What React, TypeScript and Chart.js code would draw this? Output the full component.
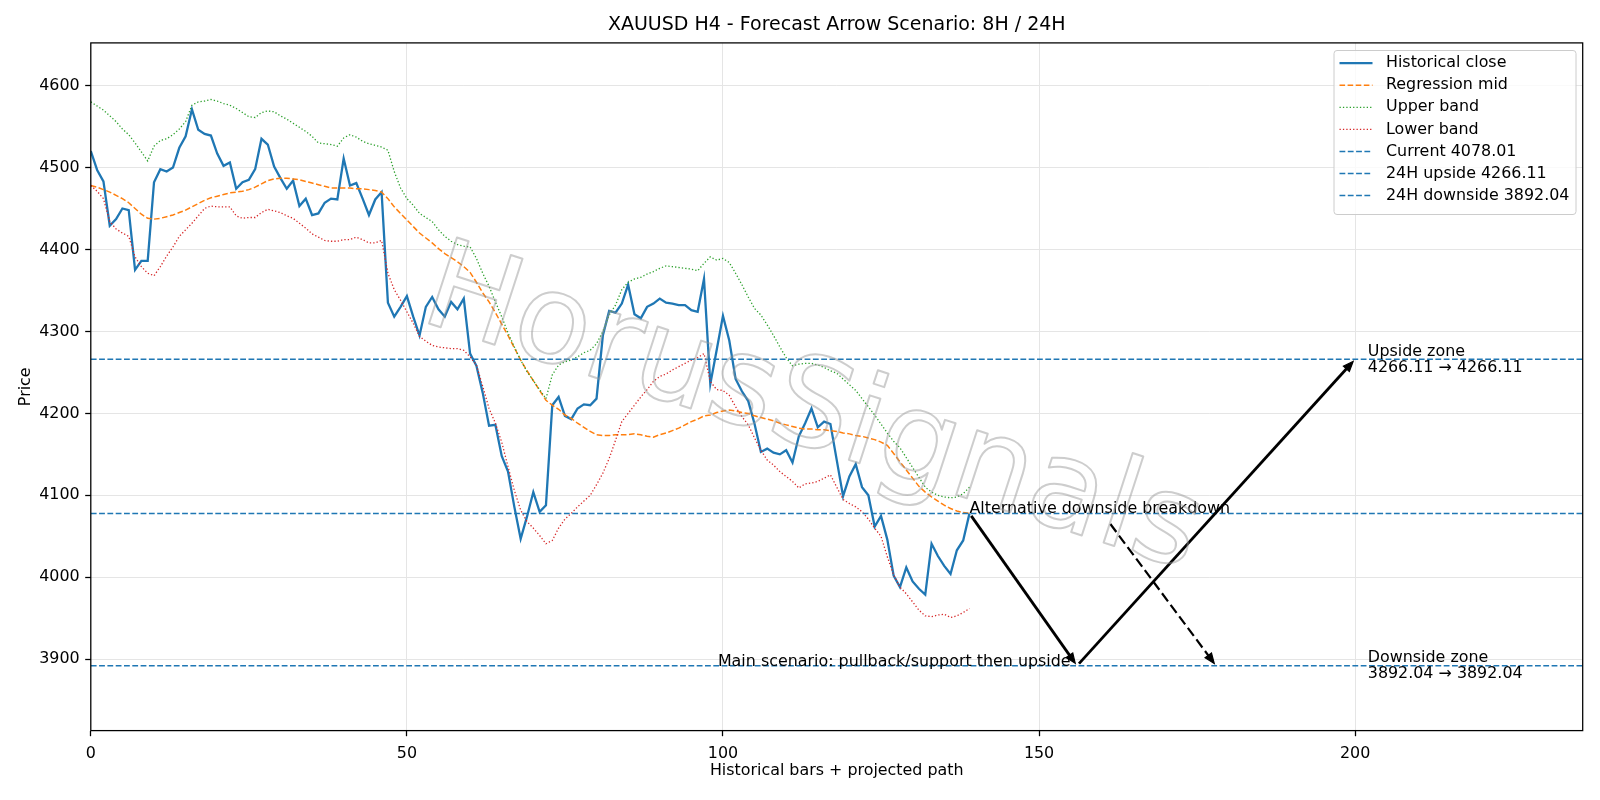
import React, { useEffect, useRef } from "react";
import { Chart, registerables } from "chart.js";

Chart.register(...registerables);

const FONT = "'DejaVu Sans', 'Liberation Sans', sans-serif";
const BLUE = "#1f77b4";
const ORANGE = "#ff7f0e";
const GREEN = "#2ca02c";
const RED = "#d62728";

const chartTitle = "XAUUSD H4 - Forecast Arrow Scenario: 8H / 24H";
const xAxisTitle = "Historical bars + projected path";
const yAxisTitle = "Price";

// H4 closes, one value per bar index
const closeValues = [
  4520, 4497, 4483, 4429, 4437, 4450, 4448, 4375, 4386, 4386,
  4482, 4498, 4495, 4500, 4524, 4538, 4571, 4546, 4541, 4539,
  4517, 4502, 4506, 4474, 4482, 4485, 4498, 4535, 4528, 4501,
  4487, 4474, 4484, 4453, 4462, 4442, 4444, 4457, 4462, 4461,
  4511, 4478, 4481, 4462, 4442, 4461, 4470, 4335, 4318, 4330,
  4343, 4318, 4295, 4330, 4342, 4327, 4318, 4336, 4327, 4340,
  4273, 4258, 4225, 4185, 4186, 4148, 4129, 4086, 4047, 4074,
  4104, 4080, 4088, 4210, 4220, 4197, 4193, 4206, 4211, 4210,
  4218, 4295, 4325, 4323, 4334, 4357, 4321, 4316, 4330, 4334,
  4340, 4335, 4334, 4332, 4332, 4326, 4324, 4364, 4236, 4277,
  4319, 4289, 4242, 4227, 4215, 4187, 4153, 4157, 4152, 4150,
  4155, 4140, 4172, 4188, 4206, 4183, 4190, 4187, 4143, 4099,
  4123, 4138, 4110, 4100, 4062, 4075, 4046, 4002, 3988, 4012,
  3995, 3986, 3979, 4041, 4026, 4014, 4004, 4033, 4045, 4078.01,
];

const midValues = [
  4478, 4476, 4473, 4470, 4466, 4462, 4457, 4450, 4443, 4438,
  4437, 4438, 4440, 4442, 4445, 4448, 4452, 4456, 4460, 4463,
  4465, 4467, 4469, 4470, 4471, 4473, 4476, 4480, 4484, 4486,
  4487, 4487, 4486, 4485, 4483, 4481, 4479, 4477, 4475, 4475,
  4475, 4475, 4474, 4474, 4473, 4472, 4470, 4462, 4452, 4444,
  4436, 4428, 4420, 4414, 4408, 4401, 4395, 4390, 4385, 4379,
  4372, 4360, 4347, 4336, 4323, 4309, 4295, 4280, 4265, 4252,
  4240, 4228, 4216, 4210, 4205, 4198, 4194, 4188, 4183, 4178,
  4174, 4173, 4173, 4174, 4174, 4174, 4175, 4174, 4172, 4171,
  4174, 4176, 4179, 4182, 4186, 4190, 4193, 4197, 4198, 4201,
  4203, 4204, 4203, 4201, 4200, 4197, 4195, 4193, 4191, 4188,
  4186, 4184, 4182, 4181, 4181, 4180, 4180, 4179, 4178, 4176,
  4175, 4173, 4172, 4170, 4168, 4165, 4161, 4151, 4141, 4131,
  4121, 4111, 4104, 4098, 4093, 4088, 4084, 4081, 4079, 4078,
];

const upperValues = [
  4580, 4575, 4570, 4563, 4556, 4547, 4540, 4530, 4519, 4508,
  4526, 4533, 4535, 4540, 4547, 4556, 4576, 4580, 4581, 4583,
  4581, 4578, 4576, 4572, 4567, 4562, 4561, 4567, 4569, 4568,
  4563, 4559, 4554, 4549, 4544, 4538, 4530, 4529, 4528, 4526,
  4536, 4540, 4537, 4532, 4529, 4527, 4525, 4521, 4495, 4475,
  4462, 4454, 4444, 4439, 4434, 4424, 4416, 4410, 4406, 4404,
  4403, 4389, 4371, 4355, 4336, 4318, 4298, 4281, 4265, 4251,
  4240, 4229, 4218, 4247, 4259, 4263, 4265, 4269, 4274, 4277,
  4285, 4300, 4320, 4332, 4351, 4360, 4364, 4366, 4370, 4373,
  4377, 4380, 4379, 4378, 4377, 4376, 4374, 4383, 4391, 4387,
  4389, 4384, 4371, 4357, 4342, 4328, 4320, 4308, 4295, 4281,
  4268, 4258, 4260, 4261, 4261, 4259, 4256, 4252, 4249, 4242,
  4235, 4228, 4218, 4208, 4198, 4187, 4176, 4166, 4158, 4146,
  4134, 4122, 4110, 4104, 4100, 4098, 4097, 4098, 4102, 4110,
];

const lowerValues = [
  4478, 4471, 4462, 4434, 4425, 4420, 4416, 4391, 4379, 4371,
  4368, 4379, 4392, 4403, 4416, 4424, 4432, 4441, 4450, 4453,
  4452, 4452, 4452, 4441, 4438, 4439, 4439, 4445, 4449, 4447,
  4445, 4441, 4438, 4432, 4426, 4419, 4415, 4411, 4410, 4410,
  4412, 4412, 4415, 4412, 4408, 4408, 4411, 4371, 4351, 4338,
  4324, 4310, 4294, 4288, 4283, 4281, 4280, 4279, 4279, 4277,
  4269, 4259, 4233, 4206, 4188, 4165, 4135, 4106, 4082, 4068,
  4060, 4051, 4041, 4045, 4060, 4071, 4078, 4086, 4093, 4100,
  4113, 4127, 4145, 4167, 4190, 4200, 4210, 4220, 4229, 4239,
  4245, 4248, 4253, 4257, 4261, 4265, 4268, 4273, 4239, 4229,
  4228, 4222, 4208, 4196, 4186, 4170, 4155, 4143, 4137, 4129,
  4123, 4117, 4109, 4114, 4115, 4117, 4121, 4125, 4110, 4095,
  4090, 4086, 4080, 4071, 4060, 4050, 4025, 4003, 3988, 3980,
  3970, 3960, 3953, 3952, 3954, 3955, 3951, 3953, 3957, 3962,
];

const currentPrice = 4078.01;
const upsidePrice = 4266.11;
const downsidePrice = 3892.04;

const xTickValues = [0, 50, 100, 150, 200];
const yTickValues = [3900, 4000, 4100, 4200, 4300, 4400, 4500, 4600];
const xLimits = [0, 236];
const yLimits = [3813, 4652];

// projected path legs: [fromBar, fromPrice, toBar, toPrice]
const mainDownLeg = [139, currentPrice, 156, downsidePrice];
const mainUpLeg = [156, downsidePrice, 200, upsidePrice];
const altDownLeg = [161, 4068, 178, downsidePrice];

const altLabel = "Alternative downside breakdown";
const altLabelAt = [139, currentPrice];
const mainLabel = "Main scenario: pullback/support then upside";
const mainLabelAt = [155, downsidePrice];
const zoneLabelBar = 202;
const upsideZoneLines = ["Upside zone", `${upsidePrice.toFixed(2)} \u2192 ${upsidePrice.toFixed(2)}`];
const downsideZoneLines = ["Downside zone", `${downsidePrice.toFixed(2)} \u2192 ${downsidePrice.toFixed(2)}`];

const watermarkText = "HorusSignals";

const toPoints = (vals: number[]) => vals.map((y, x) => ({ x, y }));
const levelLine = (y: number) => [
  { x: xLimits[0], y },
  { x: xLimits[1], y },
];

const TEXT_PX = 15.9;
const textFont = `${TEXT_PX}px ${FONT}`;

const framePlugin = {
  id: "frame",
  afterDatasetsDraw(chart: any) {
    const { ctx, chartArea: a } = chart;
    ctx.save();
    ctx.strokeStyle = "#000";
    ctx.lineWidth = 1.27;
    ctx.strokeRect(a.left, a.top, a.right - a.left, a.bottom - a.top);
    ctx.restore();
  },
};

function drawLeg(chart: any, leg: number[], dashed: boolean) {
  const { ctx } = chart;
  const xs = chart.scales.x;
  const ys = chart.scales.y;
  let x0 = xs.getPixelForValue(leg[0]);
  let y0 = ys.getPixelForValue(leg[1]);
  let x1 = xs.getPixelForValue(leg[2]);
  let y1 = ys.getPixelForValue(leg[3]);
  const len = Math.hypot(x1 - x0, y1 - y0);
  const ux = (x1 - x0) / len;
  const uy = (y1 - y0) / len;
  const shrink = 3;
  x0 += ux * shrink;
  y0 += uy * shrink;
  x1 -= ux * shrink;
  y1 -= uy * shrink;
  const headLen = 10;
  const headHalf = 4;
  const bx = x1 - ux * headLen;
  const by = y1 - uy * headLen;
  ctx.save();
  ctx.strokeStyle = "#000";
  ctx.fillStyle = "#000";
  ctx.lineWidth = dashed ? 2.2 : 2.8;
  ctx.setLineDash(dashed ? [10, 4.4] : []);
  ctx.beginPath();
  ctx.moveTo(x0, y0);
  ctx.lineTo(bx + ux * 1.5, by + uy * 1.5);
  ctx.stroke();
  ctx.setLineDash([]);
  ctx.lineWidth = 1.2;
  ctx.lineJoin = "miter";
  ctx.beginPath();
  ctx.moveTo(x1, y1);
  ctx.lineTo(bx - uy * headHalf, by + ux * headHalf);
  ctx.lineTo(bx + uy * headHalf, by - ux * headHalf);
  ctx.closePath();
  ctx.fill();
  ctx.stroke();
  ctx.restore();
}

const scenarioPlugin = {
  id: "scenario",
  afterDatasetsDraw(chart: any) {
    const { ctx } = chart;
    const xs = chart.scales.x;
    const ys = chart.scales.y;

    drawLeg(chart, mainDownLeg, false);
    drawLeg(chart, mainUpLeg, false);
    drawLeg(chart, altDownLeg, true);

    ctx.save();
    ctx.fillStyle = "#000";
    ctx.font = textFont;
    ctx.textBaseline = "alphabetic";

    ctx.textAlign = "left";
    ctx.fillText(altLabel, xs.getPixelForValue(altLabelAt[0]), ys.getPixelForValue(altLabelAt[1]));

    ctx.textAlign = "right";
    ctx.fillText(mainLabel, xs.getPixelForValue(mainLabelAt[0]), ys.getPixelForValue(mainLabelAt[1]));

    ctx.textAlign = "left";
    const zx = xs.getPixelForValue(zoneLabelBar);
    const zones: [string[], number][] = [
      [upsideZoneLines, upsidePrice],
      [downsideZoneLines, downsidePrice],
    ];
    zones.forEach(([lines, price]) => {
      const cy = ys.getPixelForValue(price);
      lines.forEach((t, i) => ctx.fillText(t, zx, cy - 3.4 + i * 15.8));
    });
    ctx.restore();
  },
};

const watermarkPlugin = {
  id: "watermark",
  afterDraw(chart: any) {
    const { ctx } = chart;
    ctx.save();
    ctx.translate(812, 414);
    ctx.rotate((18 * Math.PI) / 180);
    ctx.font = `124px ${FONT}`;
    ctx.textAlign = "center";
    ctx.textBaseline = "middle";
    ctx.lineJoin = "round";
    ctx.strokeStyle = "rgba(150,150,150,0.48)";
    ctx.lineWidth = 2;
    ctx.strokeText(watermarkText, 0, 0);
    ctx.restore();
  },
};

const legendPlugin = {
  id: "boxLegend",
  afterDraw(chart: any) {
    const { ctx, chartArea: a } = chart;
    const items = chart.data.datasets.filter((d: any) => d.label);
    const rowH = 22.07;
    const boxW = 242;
    const boxH = 16 + rowH * items.length - 6.5;
    const left = a.right - 6.7 - boxW;
    const top = a.top + 7.6;
    ctx.save();
    ctx.beginPath();
    ctx.roundRect(left, top, boxW, boxH, 3);
    ctx.fillStyle = "rgba(255,255,255,0.8)";
    ctx.fill();
    ctx.strokeStyle = "#cccccc";
    ctx.lineWidth = 1;
    ctx.stroke();

    ctx.font = textFont;
    ctx.textAlign = "left";
    ctx.textBaseline = "middle";
    items.forEach((d: any, i: number) => {
      const y = top + 12.7 + i * rowH;
      ctx.beginPath();
      ctx.strokeStyle = d.borderColor;
      ctx.lineWidth = d.borderWidth;
      ctx.setLineDash(d.borderDash || []);
      ctx.moveTo(left + 5.5, y);
      ctx.lineTo(left + 38.5, y);
      ctx.stroke();
      ctx.setLineDash([]);
      ctx.fillStyle = "#000";
      ctx.fillText(d.label, left + 52, y);
    });
    ctx.restore();
  },
};

const titlePlugin = {
  id: "plotTitle",
  afterDraw(chart: any) {
    const { ctx, chartArea: a } = chart;
    ctx.save();
    ctx.fillStyle = "#000";
    ctx.font = `19px ${FONT}`;
    ctx.textAlign = "center";
    ctx.textBaseline = "alphabetic";
    ctx.fillText(chartTitle, (a.left + a.right) / 2, a.top - 12.6);
    ctx.restore();
  },
};

export default function App() {
  const canvasRef = useRef<HTMLCanvasElement | null>(null);

  useEffect(() => {
    const canvas = canvasRef.current;
    if (!canvas) return;

    const tickFont = { family: FONT, size: TEXT_PX };
    const grid = {
      color: "#e5e5e5",
      lineWidth: 1,
      tickLength: 5.6,
      tickColor: "#000",
      tickWidth: 1.27,
      drawTicks: true,
    };
    const plainNumber = (v: any) => String(v);

    const chart = new Chart(canvas, {
      type: "line",
      data: {
        datasets: [
          {
            label: "Historical close",
            data: toPoints(closeValues),
            borderColor: BLUE,
            borderWidth: 2.3,
            borderDash: [],
            order: 7,
          },
          {
            label: "Regression mid",
            data: toPoints(midValues),
            borderColor: ORANGE,
            borderWidth: 1.5,
            borderDash: [5.6, 2.5],
            order: 6,
          },
          {
            label: "Upper band",
            data: toPoints(upperValues),
            borderColor: GREEN,
            borderWidth: 1.3,
            borderDash: [1.3, 2.1],
            order: 5,
          },
          {
            label: "Lower band",
            data: toPoints(lowerValues),
            borderColor: RED,
            borderWidth: 1.3,
            borderDash: [1.3, 2.1],
            order: 4,
          },
          {
            label: `Current ${currentPrice.toFixed(2)}`,
            data: levelLine(currentPrice),
            borderColor: BLUE,
            borderWidth: 1.5,
            borderDash: [5.8, 2.5],
            order: 3,
          },
          {
            label: `24H upside ${upsidePrice.toFixed(2)}`,
            data: levelLine(upsidePrice),
            borderColor: BLUE,
            borderWidth: 1.5,
            borderDash: [5.8, 2.5],
            order: 2,
          },
          {
            label: `24H downside ${downsidePrice.toFixed(2)}`,
            data: levelLine(downsidePrice),
            borderColor: BLUE,
            borderWidth: 1.5,
            borderDash: [5.8, 2.5],
            order: 1,
          },
        ],
      },
      options: {
        responsive: false,
        animation: false,
        devicePixelRatio: 1,
        layout: { padding: { left: 0, right: 17.3, top: 42.9, bottom: 0 } },
        elements: {
          point: { radius: 0, hoverRadius: 0 },
          line: { tension: 0, fill: false },
        },
        plugins: {
          legend: { display: false },
          tooltip: { enabled: false },
          title: { display: false },
        },
        scales: {
          x: {
            type: "linear",
            min: xLimits[0],
            max: xLimits[1],
            afterFit: (s: any) => {
              s.height = 69.4;
            },
            afterBuildTicks: (s: any) => {
              s.ticks = xTickValues.map((value) => ({ value }));
            },
            grid,
            border: { display: false },
            ticks: {
              font: tickFont,
              color: "#000",
              padding: 7.7,
              maxRotation: 0,
              autoSkip: false,
              callback: plainNumber,
            },
            title: {
              display: true,
              text: xAxisTitle,
              color: "#000",
              font: tickFont,
              padding: { top: 0, bottom: 20 },
            },
          },
          y: {
            type: "linear",
            min: yLimits[0],
            max: yLimits[1],
            afterFit: (s: any) => {
              s.width = 90.8;
            },
            afterBuildTicks: (s: any) => {
              s.ticks = yTickValues.map((value) => ({ value }));
            },
            grid,
            border: { display: false },
            ticks: {
              font: tickFont,
              color: "#000",
              padding: 5.6,
              autoSkip: false,
              callback: plainNumber,
            },
            title: {
              display: true,
              text: yAxisTitle,
              color: "#000",
              font: tickFont,
              padding: { top: 16, bottom: 0 },
            },
          },
        },
      },
      plugins: [framePlugin, scenarioPlugin, watermarkPlugin, legendPlugin, titlePlugin],
    } as any);

    return () => chart.destroy();
  }, []);

  return (
    <div style={{ position: "absolute", left: 0, top: 0, width: 1600, height: 800, background: "#fff" }}>
      <canvas ref={canvasRef} width={1600} height={800} style={{ display: "block" }} />
    </div>
  );
}
